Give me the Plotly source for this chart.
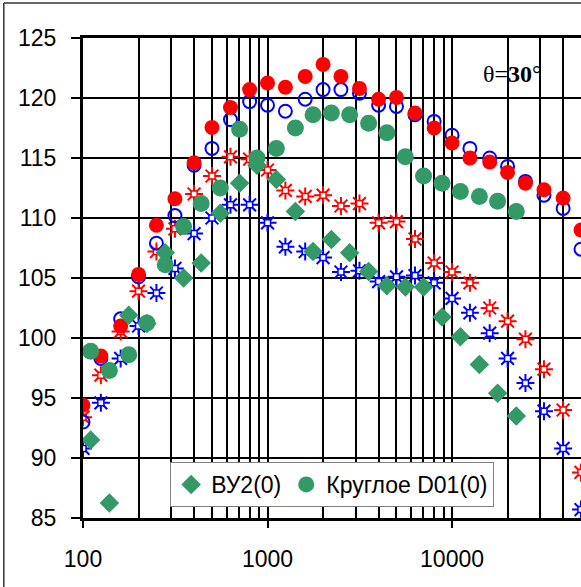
import plotly.graph_objects as go

# third-octave frequencies (red / blue series)
freq = [100, 125, 160, 200, 250, 315, 400, 500, 630, 800, 1000, 1250, 1600, 2000,
        2500, 3150, 4000, 5000, 6300, 8000, 10000, 12500, 16000, 20000, 25000,
        31500, 40000, 50000]

red_circles = [94.4, 98.5, 101.0, 105.3, 109.4, 111.6, 114.6, 117.55, 119.2, 120.7,
               121.25, 120.9, 121.8, 122.8, 121.8, 120.8, 119.9, 120.05, 118.75, 117.5,
               116.25, 115.0, 114.67, 113.8, 112.9, 112.35, 111.67, 109.0]

blue_circles = [93.0, 98.3, 101.6, 105.1, 107.9, 110.2, 114.4, 115.8, 118.2, 119.7,
                119.4, 118.9, 119.9, 120.7, 120.7, 120.4, 119.4, 119.3, 118.6, 118.05,
                116.9, 115.8, 115.0, 114.3, 113.05, 111.9, 110.8, 107.4]

red_stars = [93.4, 96.9, 100.55, 103.9, 107.2, 109.1, 112.0, 113.5, 115.1, 114.9,
             114.0, 112.3, 111.8, 111.9, 111.0, 111.2, 109.6, 109.7, 108.25, 106.25,
             105.5, 104.6, 102.5, 101.4, 99.9, 97.4, 94.0, 88.8]

blue_stars = [90.8, 94.6, 98.3, 101.0, 103.75, 105.8, 108.7, 110.0, 111.1, 111.1,
              109.6, 107.6, 107.2, 106.7, 105.5, 105.6, 104.7, 105.1, 105.2, 104.6,
              103.3, 102.1, 100.4, 98.3, 96.25, 93.9, 90.8, 85.7]

# green series (slightly shifted frequencies)
freq_g = [110, 139, 177, 222, 279, 351, 437, 555, 706, 877, 1117, 1416, 1766, 2218,
          2787, 3532, 4435, 5585, 7010, 8830, 11100, 14070, 17660, 22300]

vu2 = [91.5, 86.25, 101.9, 101.2, 107.1, 105.0, 106.25, 110.4, 112.9, 114.4, 113.2,
       110.55, 107.2, 108.2, 107.1, 105.55, 104.36, 104.25, 104.25, 101.75, 100.1,
       97.8, 95.4, 93.5]

krugloe = [98.9, 97.3, 98.6, 101.25, 106.1, 109.3, 111.2, 112.5, 117.4, 115.0, 115.8,
           117.5, 118.6, 118.75, 118.6, 117.9, 117.1, 115.1, 113.5, 112.9, 112.2,
           111.8, 111.4, 110.55]

x_tickvals = [100, 1000, 10000]
x_ticktext = ["100", "1000", "10000"]
x_minor = [m * d for d in (100, 1000, 10000) for m in range(2, 10)]

RED = "#FF0000"
BLUE = "#0000FF"
GREEN = "#339966"

fig = go.Figure()

def star_traces(y, color):
    fig.add_trace(go.Scatter(x=freq, y=y, mode="markers", showlegend=False,
                             marker=dict(symbol="asterisk-open", size=15, color=color,
                                         line=dict(width=2, color=color))))
    fig.add_trace(go.Scatter(x=freq, y=y, mode="markers", showlegend=False,
                             marker=dict(symbol="square", size=6, color="white",
                                         line=dict(width=1.5, color=color))))

star_traces(blue_stars, BLUE)
star_traces(red_stars, RED)

fig.add_trace(go.Scatter(x=freq, y=blue_circles, mode="markers", showlegend=False,
                         marker=dict(symbol="circle-open", size=13, color=BLUE,
                                     line=dict(width=2, color=BLUE))))
fig.add_trace(go.Scatter(x=freq, y=red_circles, mode="markers", showlegend=False,
                         marker=dict(symbol="circle", size=15, color=RED,
                                     line=dict(width=0))))
fig.add_trace(go.Scatter(x=freq_g, y=vu2, mode="markers", name="ВУ2(0)",
                         marker=dict(symbol="diamond", size=15, color=GREEN,
                                     line=dict(width=0))))
fig.add_trace(go.Scatter(x=freq_g, y=krugloe, mode="markers", name="Круглое D01(0)",
                         marker=dict(symbol="circle", size=17, color=GREEN,
                                     line=dict(width=0))))

fig.update_layout(
    width=581, height=587,
    margin=dict(l=83, r=0, t=38, b=69),
    paper_bgcolor="white", plot_bgcolor="white",
    font=dict(family="Liberation Sans, Arial, sans-serif", color="black", size=23),
    xaxis=dict(type="log", range=[2, 4.699],
               tickvals=x_tickvals, ticktext=x_ticktext,
               showgrid=True, gridcolor="black", gridwidth=1.7,
               minor=dict(tickvals=x_minor, showgrid=True, gridcolor="black",
                          gridwidth=1.7, ticks=""),
               showline=True, linecolor="black", linewidth=3, mirror=True,
               ticks="outside", ticklen=7, tickwidth=1.5, tickcolor="black",
               ticklabelstandoff=11,
               tickfont=dict(size=23), zeroline=False),
    yaxis=dict(range=[85, 125], dtick=5, tick0=85,
               showgrid=True, gridcolor="black", gridwidth=1.7,
               showline=True, linecolor="black", linewidth=3, mirror=False,
               ticks="outside", ticklen=9, tickwidth=1.5, tickcolor="black",
               ticklabelstandoff=10,
               tickfont=dict(size=23), zeroline=False),
    legend=dict(orientation="h", x=0.175, y=0.023, xanchor="left", yanchor="bottom",
                bgcolor="white", bordercolor="#808080", borderwidth=1,
                font=dict(size=23), itemwidth=30, tracegroupgap=0),
    annotations=[dict(text="θ=<b>30</b>°", x=0.862, y=0.925, xref="paper", yref="paper",
                      xanchor="center", yanchor="middle", showarrow=False,
                      font=dict(family="Liberation Serif, Times New Roman, serif",
                                size=24, color="black"))],
    shapes=[
        dict(type="line", xref="paper", yref="paper", x0=-0.159, x1=-0.159,
             y0=-0.2, y1=1.073, line=dict(color="#333333", width=1.5)),
        dict(type="line", xref="paper", yref="paper", x0=-0.159, x1=1.05,
             y0=1.073, y1=1.073, line=dict(color="#333333", width=1.5)),
    ],
)

fig.write_html("out.html")
